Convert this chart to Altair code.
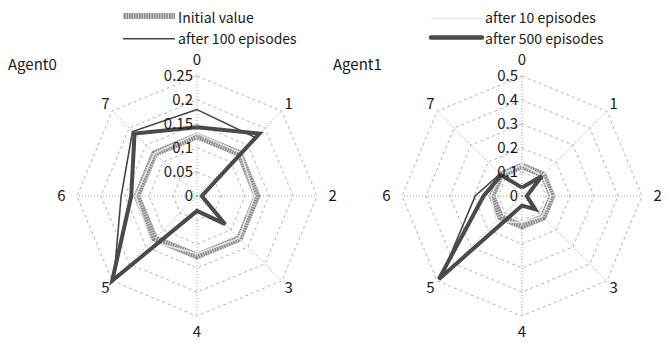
import altair as alt
import pandas as pd

# ---------------- data ----------------
actions = ["0", "1", "2", "3", "4", "5", "6", "7"]
agents = ["Agent0", "Agent1"]
axis_max = [0.25, 0.5]
ticks_agent0 = [0, 0.05, 0.1, 0.15, 0.2, 0.25]
ticks_agent1 = [0, 0.1, 0.2, 0.3, 0.4, 0.5]
series_names = ["Initial value", "after 10 episodes", "after 100 episodes", "after 500 episodes"]

agent0_initial = [0.125, 0.125, 0.125, 0.125, 0.125, 0.125, 0.125, 0.125]
agent0_ep10 = [0.13, 0.128, 0.12, 0.124, 0.12, 0.135, 0.128, 0.126]
agent0_ep100 = [0.18, 0.172, 0.012, 0.083, 0.031, 0.245, 0.158, 0.19]
agent0_ep500 = [0.143, 0.184, 0.01, 0.083, 0.031, 0.25, 0.137, 0.184]

agent1_initial = [0.125, 0.125, 0.125, 0.125, 0.125, 0.125, 0.125, 0.125]
agent1_ep10 = [0.13, 0.12, 0.12, 0.12, 0.11, 0.15, 0.13, 0.125]
agent1_ep100 = [0.035, 0.112, 0.02, 0.075, 0.04, 0.475, 0.195, 0.13]
agent1_ep500 = [0.035, 0.118, 0.02, 0.078, 0.04, 0.49, 0.16, 0.123]

# ---------------- layout (not data) ----------------
W, H = 653, 334
R = 120.0  # pixels per unit radius
CX0, CY = 189.0, 188.0  # Agent0 centre in chart pixels
PANEL_OFF = 325.0 / R    # Agent1 centre offset in units
XDOM = [-CX0 / R, (W - CX0) / R]
YDOM = [-(H - CY) / R, CY / R]
FONT = "Noto Sans CJK JP"
TXT = "#1a1a1a"

series_values = {
    "Agent0": [agent0_initial, agent0_ep10, agent0_ep100, agent0_ep500],
    "Agent1": [agent1_initial, agent1_ep10, agent1_ep100, agent1_ep500],
}
ticks = {"Agent0": ticks_agent0, "Agent1": ticks_agent1}

rows = []
for ai, ag in enumerate(agents):
    for s, vals in zip(series_names, series_values[ag]):
        for i in range(len(actions) + 1):
            rows.append({"agent": ag, "off": ai * PANEL_OFF, "vmax": axis_max[ai],
                         "series": s, "idx": i, "value": vals[i % len(actions)]})
series_df = pd.DataFrame(rows)

grid_rows, tick_rows, spoke_rows, lab_rows = [], [], [], []
for ai, ag in enumerate(agents):
    for t in ticks[ag]:
        tick_rows.append({"agent": ag, "off": ai * PANEL_OFF, "vmax": axis_max[ai],
                          "value": t, "idx": 0, "label": f"{t:g}"})
        if t > 0:
            for i in range(len(actions) + 1):
                grid_rows.append({"agent": ag, "off": ai * PANEL_OFF, "vmax": axis_max[ai],
                                  "value": t, "idx": i})
    for i, a in enumerate(actions):
        spoke_rows.append({"agent": ag, "off": ai * PANEL_OFF, "idx": i})
        lab_rows.append({"agent": ag, "off": ai * PANEL_OFF, "idx": i, "label": a})
grid_df = pd.DataFrame(grid_rows)
tick_df = pd.DataFrame(tick_rows)
spoke_df = pd.DataFrame(spoke_rows)
lab_df = pd.DataFrame(lab_rows)
title_df = pd.DataFrame({"agent": agents, "off": [0, PANEL_OFF]})

xs = alt.Scale(domain=XDOM, nice=False, zero=False)
ys = alt.Scale(domain=YDOM, nice=False, zero=False)
X = alt.X("x:Q", scale=xs, axis=None)
Y = alt.Y("y:Q", scale=ys, axis=None)


def polar(chart):
    return chart.transform_calculate(
        r="datum.value / datum.vmax",
        ang="datum.idx * PI / 4",
    ).transform_calculate(
        x="datum.off + datum.r * sin(datum.ang)",
        y="datum.r * cos(datum.ang)",
    )


grid = polar(alt.Chart(grid_df).mark_line(color="#a0a0a0", strokeWidth=0.8, strokeDash=[3, 3])).encode(
    x=X, y=Y, detail=["agent:N", "value:Q"], order="idx:Q")

spokes = alt.Chart(spoke_df).mark_rule(color="#8a8a8a", strokeWidth=0.8, strokeDash=[1, 2]).transform_calculate(
    x="datum.off", y="0",
    x2="datum.off + sin(datum.idx * PI / 4)", y2="cos(datum.idx * PI / 4)",
).encode(x=X, y=Y, x2="x2:Q", y2="y2:Q")


def series_line(name, **kw):
    return polar(alt.Chart(series_df).transform_filter(alt.datum.series == name).mark_line(**kw)).encode(
        x=X, y=Y, detail="agent:N", order="idx:Q")


init_base = series_line("Initial value", color="#8a8a8a", strokeWidth=6.5, strokeJoin="round")
init_hatch = series_line("Initial value", color="#d4d4d4", strokeWidth=6.5, strokeDash=[1, 1.5])
ep10 = series_line("after 10 episodes", color="#e6e6e6", strokeWidth=1.5)
ep100 = series_line("after 100 episodes", color="#454545", strokeWidth=1.6)
ep500 = series_line("after 500 episodes", color="#4a4a4a", strokeWidth=4, strokeJoin="miter")

tick_labels = polar(alt.Chart(tick_df).mark_text(align="right", baseline="middle", dx=-4, font=FONT,
                                                  fontSize=15, color=TXT)).encode(x=X, y=Y, text="label:N")

axis_labels = alt.Chart(lab_df).mark_text(align="center", baseline="middle", font=FONT, fontSize=15,
                                          color=TXT).transform_calculate(
    rr="datum.idx % 2 == 0 ? 1.13 : 1.08",
    x="datum.off + datum.rr * sin(datum.idx * PI / 4)",
    y="datum.rr * cos(datum.idx * PI / 4)",
).encode(x=X, y=Y, text="label:N")

titles = alt.Chart(title_df).mark_text(align="left", baseline="middle", font=FONT, fontSize=15,
                                       color=TXT).transform_calculate(
    x="datum.off - 1.575", y="1.09").encode(x=X, y=Y, text="agent:N")

# ---- legend ----
leg_df = pd.DataFrame({"series": series_names})
leg_pos = {  # (x1, x2, y) in units
    "Initial value": (-0.617, -0.183, 1.50),
    "after 10 episodes": (1.95, 2.375, 1.48),
    "after 100 episodes": (-0.617, -0.183, 1.31),
    "after 500 episodes": (1.95, 2.375, 1.32),
}
leg_df["x"] = [leg_pos[s][0] for s in series_names]
leg_df["x2"] = [leg_pos[s][1] for s in series_names]
leg_df["y"] = [leg_pos[s][2] for s in series_names]
leg_df["ty"] = [1.478, 1.478, 1.30, 1.30]


def leg_rule(name, **kw):
    return alt.Chart(leg_df).transform_filter(alt.datum.series == name).mark_rule(**kw).encode(
        x=X, x2="x2:Q", y=Y)


leg_marks = [
    leg_rule("Initial value", color="#8a8a8a", strokeWidth=6),
    leg_rule("Initial value", color="#d4d4d4", strokeWidth=6, strokeDash=[1, 1.5]),
    leg_rule("after 10 episodes", color="#e6e6e6", strokeWidth=1.5),
    leg_rule("after 100 episodes", color="#454545", strokeWidth=1.6),
    leg_rule("after 500 episodes", color="#4a4a4a", strokeWidth=4.5, strokeCap="round"),
]
leg_text = alt.Chart(leg_df).mark_text(align="left", baseline="middle", dx=3, font=FONT, fontSize=14,
                                       color=TXT).encode(
    x=alt.X("x2:Q", scale=xs, axis=None), y=alt.Y("ty:Q", scale=ys, axis=None), text="series:N")

chart = alt.layer(
    grid, spokes, init_base, init_hatch, ep10, ep100, ep500,
    tick_labels, axis_labels, titles, *leg_marks, leg_text,
).properties(
    width=W, height=H, padding=0, autosize=alt.AutoSizeParams(type="none"),
    background="white",
).configure_view(stroke=None)

chart.save("out.html", embed_options={"renderer": "svg", "actions": False})
